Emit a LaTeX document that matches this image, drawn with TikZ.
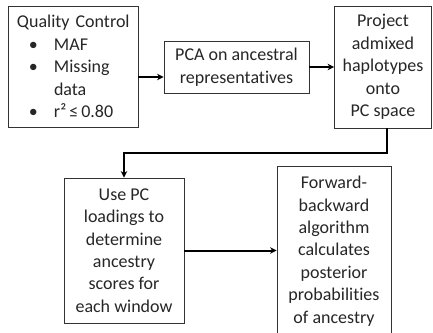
\documentclass[tikz,border=0pt]{standalone}
\usepackage{fontspec}
\setmainfont{Carlito}[Ligatures=NoCommon]
\usetikzlibrary{arrows.meta}
\begin{document}
\begin{tikzpicture}[x=1pt,y=-1pt,
  box/.style={draw=black!80, line width=0.9pt, rectangle, inner sep=0pt, align=center,
    font=\fontsize{18}{22.4}\selectfont, text=black!85},
  conn/.style={line width=2pt, draw=black, -{Stealth[length=6.5pt,width=6.5pt]}}]
\clip (0,0) rectangle (433,332);
\useasboundingbox (0,0) rectangle (433,332);
\node[box, minimum width=130pt, minimum height=121pt, inner xsep=4.5pt, text width=121pt, align=left] (qc) at (73,66.5)
  {\hspace*{4.5pt}Quality Control\\
   \hspace*{16.5pt}\makebox[25pt][l]{•}MAF\\
   \hspace*{16.5pt}\makebox[25pt][l]{•}Missing\\
   \hspace*{41.5pt}data\\
   \hspace*{16.5pt}\makebox[25pt][l]{•}r²\,≤\,0.80};
\node[box, minimum width=145pt, minimum height=52pt] (pca) at (236.5,67)
  {PCA on ancestral\\representatives};
\node[box, minimum width=97pt, minimum height=122pt] (proj) at (383,67)
  {Project\\admixed\\haplotypes\\onto\\PC space};
\node[box, minimum width=120pt, minimum height=145pt] (use) at (124,250.5)
  {Use PC\\loadings to\\determine\\ancestry\\scores for\\each window};
\node[box, minimum width=114pt, minimum height=170pt] (fb) at (334,251)
  {Forward-\\backward\\algorithm\\calculates\\posterior\\probabilities\\of ancestry};
\draw[conn] (qc.east |- 0,77) -- (pca.west |- 0,77);
\draw[conn] (pca.east) -- (proj.west |- pca.east);
\draw[conn] ([xshift=4pt]proj.south) -- ++(0,25) -| (use.north);
\draw[conn] (use.east) -- (use.east -| fb.west);
\end{tikzpicture}
\end{document}
